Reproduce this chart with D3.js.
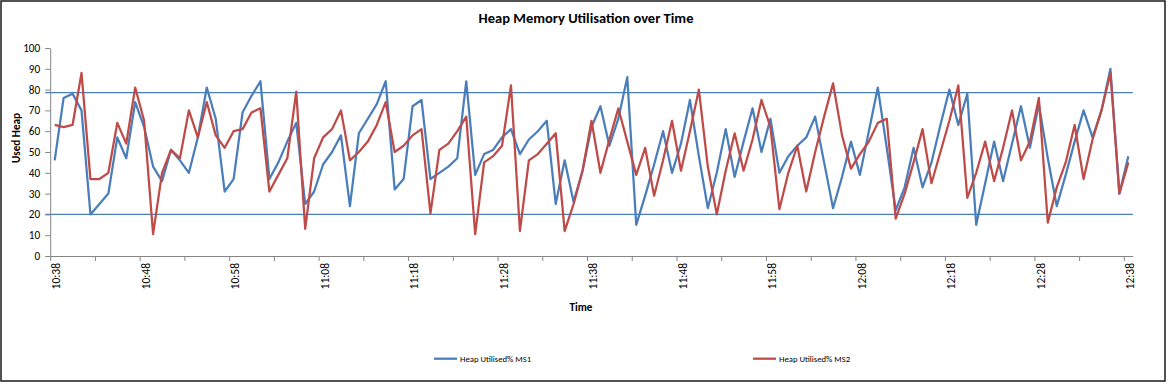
<!DOCTYPE html>
<html>
<head>
<meta charset="utf-8">
<script src="https://cdn.jsdelivr.net/npm/d3@7"></script>
<style>
  body { margin: 0; background: #fff; }
  svg text { font-family: Carlito, "Liberation Sans", Arial, sans-serif; fill: #000; }
</style>
</head>
<body>
<div id="canvas"></div>
<script>
"use strict"

/* Data: one sample per minute, 10:38 -> 12:38 */
let startTime = "10:38";
let endTime = "12:38";

let tickLabels = ["10:38", "10:48", "10:58", "11:08", "11:18", "11:28", "11:38",
    "11:48", "11:58", "12:08", "12:18", "12:28", "12:38"];

let yTicks = [0, 10, 20, 30, 40, 50, 60, 70, 80, 90, 100];

let thresholds = [20, 78.5];

let ms1 = [46, 76, 78, 70, 20, 25, 30, 57, 47, 74,
    62, 43, 36, 51, 46, 40, 57, 81, 66, 31,
    37, 69, 77, 84, 37, 45, 55, 64, 25, 31,
    44, 50, 58, 24, 59, 66, 73, 84, 32, 37,
    72, 75, 37, 40, 43, 47, 84, 39, 49, 51,
    57, 61, 49, 56, 60, 65, 25, 46, 26, 41,
    62, 72, 53, 66, 86, 15, 29, 44, 60, 40,
    54, 75, 48, 23, 40, 61, 38, 55, 71, 50,
    66, 40, 48, 53, 57, 67, 45, 23, 38, 55,
    39, 60, 81, 52, 22, 33, 52, 33, 45, 63,
    80, 63, 78, 15, 35, 55, 36, 54, 72, 52,
    73, 47, 24, 39, 55, 70, 57, 70, 90, 30,
    48];

let ms2 = [63, 62, 63, 88, 37, 37, 40, 64, 54, 81,
    65, 10.5, 40, 51, 47, 70, 57, 74, 58, 52,
    60, 61, 69, 71, 31, 39, 47, 79, 13, 47,
    57, 61, 70, 46, 50, 55, 63, 74, 50, 53,
    58, 61, 20.5, 51, 54, 60, 67, 10.5, 45, 48,
    53, 82, 12, 46, 49, 54, 59, 12, 25, 41,
    65, 40, 56, 71, 55, 39, 52, 29, 46, 65,
    41, 60, 80, 43, 20, 41, 59, 41, 56, 75,
    62, 22.5, 40, 53, 31, 50, 67, 83, 58, 42,
    49, 55, 64, 66, 18, 30, 45, 61, 35, 50,
    65, 82, 28, 40, 55, 36, 52, 70, 46, 55,
    76, 16, 33, 45, 63, 37, 56, 70, 88, 30,
    45];

let seriesNames = ["Heap Utilised% MS1", "Heap Utilised% MS2"];

/* Configuration variables: drawing */
let svgWidth = 1173;
let svgHeight = 387;
let plotLeft = 50.2;
let plotRight = 1132.8;
let plotTop = 48;
let plotBottom = 256;
let colors = ["#4a7ebb", "#be4b48"];
let axisColor = "#868686";

let parseTime = d3.timeParse("%H:%M");
let minutes = d3.timeMinute.range(parseTime(startTime), d3.timeMinute.offset(parseTime(endTime), 1));

let svg = d3.select("#canvas")
    .append("svg")
    .attr("width", svgWidth)
    .attr("height", svgHeight);

/* Chart border */
svg.append("rect")
    .attr("x", 1)
    .attr("y", 1)
    .attr("width", 1164)
    .attr("height", 380)
    .attr("fill", "none")
    .attr("stroke", "#1a1a1a")
    .attr("stroke-width", 1.5);

/* Category axis: each minute sits in the middle of its slot */
let xScale = d3.scaleTime()
    .domain([d3.timeSecond.offset(minutes[0], -30), d3.timeSecond.offset(minutes[minutes.length - 1], 30)])
    .range([plotLeft, plotRight]);

let yScale = d3.scaleLinear()
    .domain([0, 100])
    .range([plotBottom, plotTop]);

/* threshold lines */
svg.selectAll(".threshold")
    .data(thresholds)
    .join("line")
    .attr("class", "threshold")
    .attr("x1", plotLeft - 5)
    .attr("x2", plotRight)
    .attr("y1", d => yScale(d))
    .attr("y2", d => yScale(d))
    .attr("stroke", colors[0])
    .attr("stroke-width", 1.2);

/* y axis */
let yAxis = svg.append("g")
    .attr("transform", `translate(${plotLeft},0)`)
    .call(d3.axisLeft(yScale).tickValues(yTicks).tickSize(5).tickSizeOuter(0).tickPadding(5));

yAxis.select(".domain").attr("stroke", axisColor);
yAxis.selectAll(".tick line").attr("stroke", axisColor);
yAxis.selectAll("text")
    .style("font-size", "11.2px")
    .attr("fill", "#000");

/* x axis: tick marks between every 5 categories */
let tickTimes = minutes.filter((d, i) => i % 5 === 0)
    .map(d => d3.timeSecond.offset(d, -30));

let xAxis = svg.append("g")
    .attr("transform", `translate(0,${plotBottom})`)
    .call(d3.axisBottom(xScale).tickValues(tickTimes).tickSize(5).tickSizeOuter(0).tickFormat(""));

xAxis.select(".domain").attr("stroke", axisColor);
xAxis.selectAll(".tick line").attr("stroke", axisColor);

/* x labels, rotated */
let xLabels = svg.append("g")
    .attr("transform", `translate(0,${plotBottom})`)
    .call(d3.axisBottom(xScale).tickValues(tickLabels.map(parseTime)).tickSize(0).tickFormat(d3.timeFormat("%H:%M")));

xLabels.select(".domain").remove();
xLabels.selectAll("text")
    .style("font-size", "11.5px")
    .attr("fill", "#000")
    .attr("transform", "rotate(-90)")
    .attr("text-anchor", "end")
    .attr("x", -7)
    .attr("y", 0)
    .attr("dy", "0.45em");

/* series lines */
let line = d3.line()
    .x((d, i) => xScale(minutes[i]))
    .y(d => yScale(d));

svg.selectAll(".series")
    .data([ms1, ms2])
    .join("path")
    .attr("class", "series")
    .attr("fill", "none")
    .attr("stroke", (d, i) => colors[i])
    .attr("stroke-width", 2.25)
    .attr("stroke-linejoin", "round")
    .attr("d", line);

/**** titles ****/
svg.append("text")
    .attr("x", 586)
    .attr("y", 23)
    .attr("text-anchor", "middle")
    .style("font-size", "14.5px")
    .style("font-weight", "bold")
    .text("Heap Memory Utilisation over Time");

svg.append("text")
    .attr("transform", "translate(19.5,138) rotate(-90)")
    .attr("text-anchor", "middle")
    .style("font-size", "11.2px")
    .style("font-weight", "bold")
    .text("Used Heap");

svg.append("text")
    .attr("x", 581)
    .attr("y", 311)
    .attr("text-anchor", "middle")
    .style("font-size", "11.2px")
    .style("font-weight", "bold")
    .text("Time");

/**** legend ****/
let legendX = [434, 753];
let legend = svg.selectAll(".legend")
    .data(seriesNames)
    .join("g")
    .attr("class", "legend")
    .attr("transform", (d, i) => `translate(${legendX[i]},358.7)`);

legend.append("line")
    .attr("x1", 0)
    .attr("x2", 23)
    .attr("stroke", (d, i) => colors[i])
    .attr("stroke-width", 2.25);

legend.append("text")
    .attr("x", 26)
    .attr("dy", "0.35em")
    .style("font-size", "8.7px")
    .text(d => d);
</script>
</body>
</html>
